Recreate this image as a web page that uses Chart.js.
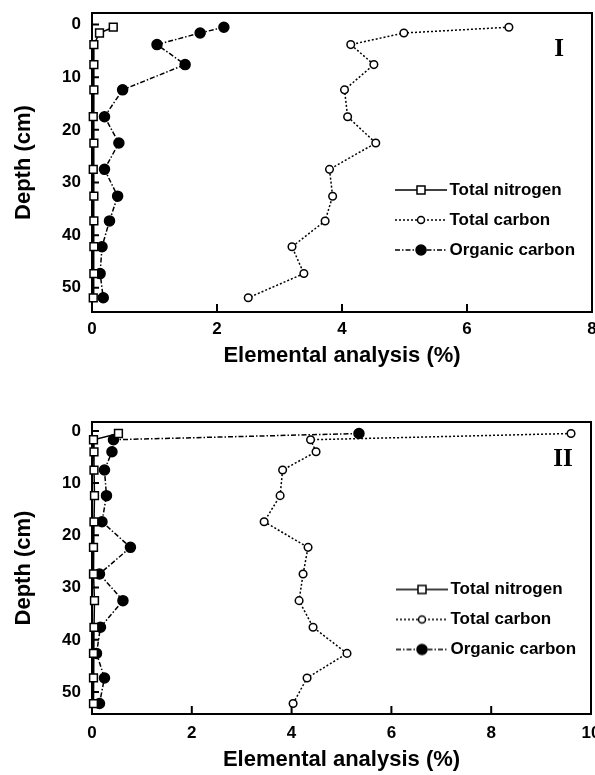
<!DOCTYPE html>
<html>
<head>
<meta charset="utf-8">
<script src="https://cdn.jsdelivr.net/npm/chart.js@4.4.1/dist/chart.umd.min.js"></script>
<style>
  body { margin: 0; background: #fff; }
  canvas { position: absolute; left: 0; }
</style>
</head>
<body>
<canvas id="chartI" width="595" height="375" style="top:0"></canvas>
<canvas id="chartII" width="595" height="400" style="top:375px"></canvas>
<script>
// Shared tick labels and series names
const seriesNames = ['Total nitrogen', 'Total carbon', 'Organic carbon'];
const yTicks = [0, 10, 20, 30, 40, 50];
const xTicksI = [0, 2, 4, 6, 8];
const xTicksII = [0, 2, 4, 6, 8, 10];

// Core I
const depthI = [0.5, 1.6, 3.8, 7.6, 12.4, 17.5, 22.5, 27.5, 32.6, 37.3, 42.2, 47.3, 51.9];
const nitrogenI = [0.34, 0.12, 0.03, 0.03, 0.03, 0.02, 0.03, 0.02, 0.03, 0.03, 0.03, 0.03, 0.02];
const totalCarbonI = [6.67, 4.99, 4.14, 4.51, 4.04, 4.09, 4.54, 3.80, 3.85, 3.73, 3.20, 3.39, 2.50];
const organicCarbonI = [2.11, 1.73, 1.04, 1.49, 0.49, 0.20, 0.43, 0.20, 0.41, 0.28, 0.16, 0.13, 0.18];

// Core II
const depthII = [0.5, 1.7, 4.0, 7.5, 12.4, 17.4, 22.3, 27.4, 32.5, 37.6, 42.6, 47.3, 52.2];
const nitrogenII = [0.53, 0.03, 0.04, 0.04, 0.05, 0.04, 0.03, 0.03, 0.05, 0.04, 0.03, 0.03, 0.03];
const totalCarbonII = [9.60, 4.38, 4.49, 3.82, 3.77, 3.45, 4.33, 4.23, 4.15, 4.43, 5.11, 4.31, 4.03];
const organicCarbonII = [5.35, 0.43, 0.40, 0.25, 0.29, 0.20, 0.77, 0.15, 0.62, 0.17, 0.09, 0.25, 0.15];

Chart.defaults.font.family = '"Liberation Sans", Arial, sans-serif';
Chart.defaults.font.weight = 'bold';
Chart.defaults.color = '#000';

const dashes = [[], [2, 2], [5, 2, 1.5, 2]];
const markers = ['rect', 'open', 'filled'];

// little line+marker pictures for the legend
function makeIcon(dash, marker) {
  const c = document.createElement('canvas');
  c.width = 52; c.height = 14;
  const g = c.getContext('2d');
  g.strokeStyle = '#000';
  g.lineWidth = 1.5;
  g.setLineDash(dash);
  g.beginPath(); g.moveTo(0, 7); g.lineTo(52, 7); g.stroke();
  g.setLineDash([]);
  g.fillStyle = marker === 'filled' ? '#000' : '#fff';
  g.beginPath();
  if (marker === 'rect') g.rect(22, 3, 8, 8);
  else g.arc(26, 7, marker === 'filled' ? 5 : 3.5, 0, Math.PI * 2);
  g.fill(); g.stroke();
  return c;
}
const icons = markers.map((m, i) => makeIcon(dashes[i], m));

// frame, inward ticks and the core numeral
const framePlugin = {
  id: 'frame',
  beforeDatasetsDraw(chart, args, opts) {
    const {ctx, chartArea: a, scales: {x, y}} = chart;
    ctx.save();
    ctx.strokeStyle = '#000';
    ctx.lineWidth = 2;
    ctx.strokeRect(a.left, a.top, a.right - a.left, a.bottom - a.top);
    ctx.beginPath();
    x.ticks.forEach(t => {
      const px = x.getPixelForValue(t.value);
      ctx.moveTo(px, a.bottom); ctx.lineTo(px, a.bottom - 8);
    });
    y.ticks.forEach(t => {
      const py = y.getPixelForValue(t.value);
      ctx.moveTo(a.left, py); ctx.lineTo(a.left + 7, py);
    });
    ctx.stroke();
    ctx.fillStyle = '#000';
    ctx.font = 'bold 25px "Liberation Serif", "Times New Roman", serif';
    ctx.textAlign = 'center';
    ctx.textBaseline = 'middle';
    ctx.fillText(opts.label, opts.labelX, opts.labelY);
    ctx.restore();
  },
  afterLayout(chart, args, opts) {
    // move the legend inside the plot, to the right
    chart.legend.left = opts.legendLeft;
    chart.legend.top = opts.legendTop;
    chart.legend.bottom = chart.chartArea.bottom;
  }
};

function buildChart(id, depth, values, xMax, xTicks, yMin, yMax, pad, axisH, titlePad, tickPad, frameOpts) {
  const datasets = values.map((vals, i) => ({
    label: seriesNames[i],
    data: vals.map((v, j) => ({x: v, y: depth[j]})),
    borderColor: '#000',
    borderWidth: 1.5,
    borderDash: dashes[i],
    pointStyle: markers[i] === 'rect' ? 'rect' : 'circle',
    pointRadius: markers[i] === 'rect' ? 5.5 : (markers[i] === 'filled' ? 5 : 3.8),
    pointBackgroundColor: markers[i] === 'filled' ? '#000' : '#fff',
    pointBorderColor: '#000',
    pointBorderWidth: 1.5,
    tension: 0,
    fill: false,
    clip: false
  }));

  return new Chart(document.getElementById(id), {
    type: 'line',
    data: {datasets},
    plugins: [framePlugin],
    options: {
      responsive: false,
      animation: false,
      layout: {padding: pad, autoPadding: false},
      scales: {
        x: {
          type: 'linear',
          position: 'bottom',
          min: 0,
          max: xMax,
          afterBuildTicks: s => { s.ticks = xTicks.map(v => ({value: v})); },
          afterFit: s => { s.height = axisH; s.paddingLeft = 0; s.paddingRight = 0; },
          grid: {display: false, drawTicks: false},
          border: {display: false},
          ticks: {font: {size: 17, weight: 'bold'}, padding: tickPad, maxRotation: 0},
          title: {
            display: true,
            text: 'Elemental analysis (%)',
            font: {size: 22, weight: 'bold'},
            padding: {top: 0, bottom: titlePad}
          }
        },
        y: {
          type: 'linear',
          reverse: true,
          min: yMin,
          max: yMax,
          afterBuildTicks: s => { s.ticks = yTicks.map(v => ({value: v})); },
          afterFit: s => { s.width = 92; s.paddingTop = 0; s.paddingBottom = 0; },
          grid: {display: false, drawTicks: false},
          border: {display: false},
          ticks: {font: {size: 17, weight: 'bold'}, padding: 11},
          title: {
            display: true,
            text: 'Depth (cm)',
            font: {size: 22, weight: 'bold'},
            padding: {top: 11, bottom: 0}
          }
        }
      },
      plugins: {
        tooltip: {enabled: false},
        frame: frameOpts,
        legend: {
          position: 'chartArea',
          align: 'start',
          labels: {
            usePointStyle: true,
            pointStyleWidth: 40,
            padding: 13,
            color: '#000',
            font: {size: 17, weight: 'bold'},
            generateLabels: chart => Chart.defaults.plugins.legend.labels.generateLabels(chart)
              .map((item, i) => Object.assign(item, {pointStyle: icons[i]}))
          }
        }
      }
    }
  });
}

buildChart('chartI', depthI, [nitrogenI, totalCarbonI, organicCarbonI], 8, xTicksI,
  -2.2, 54.6, {top: 13, right: 3, left: 0, bottom: 0}, 63, 6, 7,
  {label: 'I', labelX: 559, labelY: 50, legendLeft: 388, legendTop: 168.5});

buildChart('chartII', depthII, [nitrogenII, totalCarbonII, organicCarbonII], 10, xTicksII,
  -1.7, 54.2, {top: 47, right: 4, left: 0, bottom: 0}, 61, 2, 9,
  {label: 'II', labelX: 563, labelY: 85, legendLeft: 389, legendTop: 193});
</script>
</body>
</html>
